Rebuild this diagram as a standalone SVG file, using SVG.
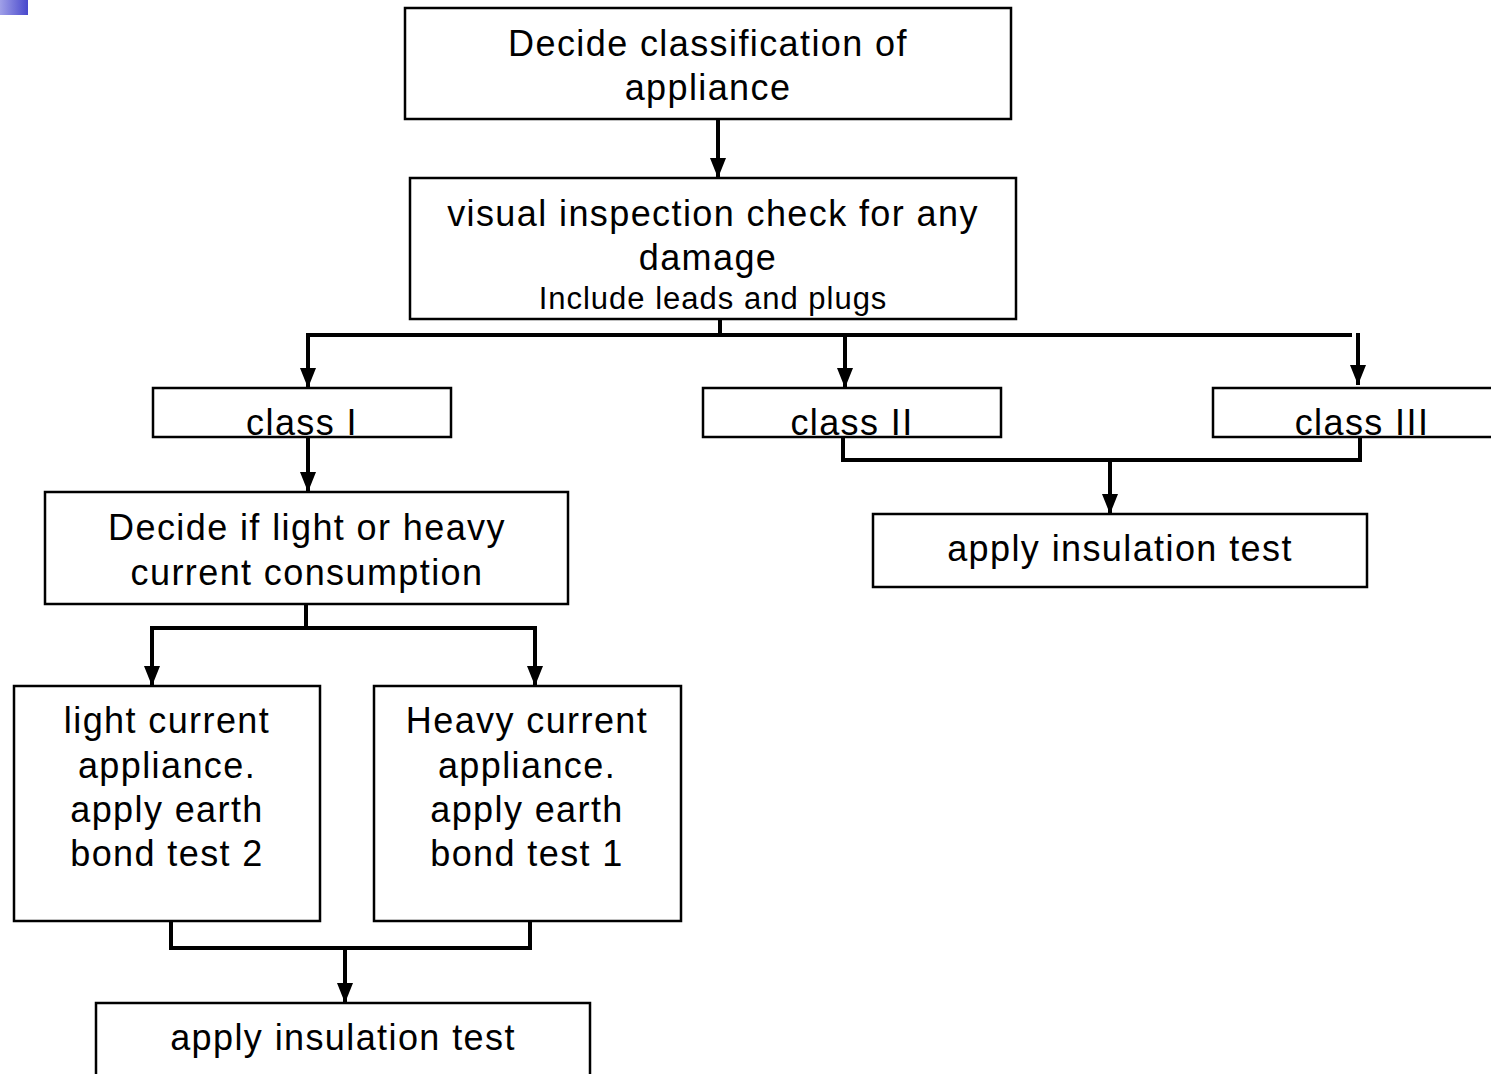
<svg xmlns="http://www.w3.org/2000/svg" width="1491" height="1074" viewBox="0 0 1491 1074">
<style>
.box{fill:#fff;stroke:#000;stroke-width:2.5}
.t{font-family:"Liberation Sans",Arial,sans-serif;font-size:36px;letter-spacing:1.4px;fill:#000;text-anchor:middle}
.s{font-size:31px;letter-spacing:1px}
.c{fill:none;stroke:#000;stroke-width:4}
</style>
<defs>
<linearGradient id="g" x1="0" y1="0" x2="1" y2="0">
<stop offset="0" stop-color="#a0a0e8"/>
<stop offset="1" stop-color="#4848cc"/>
</linearGradient>
<marker id="a" markerUnits="userSpaceOnUse" markerWidth="20" markerHeight="18" refX="20" refY="9" orient="auto" viewBox="0 0 20 18">
<path d="M0,1 L20,9 L0,17 Z" fill="#000"/>
</marker>
</defs>
<rect x="0" y="0" width="28" height="15" fill="url(#g)"/>
<g id="connectors">
<path class="c" d="M718,119 V178" marker-end="url(#a)"/>
<path class="c" d="M720,319 V335"/>
<path class="c" d="M306,335 H1352"/>
<path class="c" d="M308,335 V388" marker-end="url(#a)"/>
<path class="c" d="M845,335 V388" marker-end="url(#a)"/>
<path class="c" d="M1358,333 V385" marker-end="url(#a)"/>
<path class="c" d="M308,437 V492" marker-end="url(#a)"/>
<path class="c" d="M843,437 V460 H1362 M1360,437 V460"/>
<path class="c" d="M1110,460 V514" marker-end="url(#a)"/>
<path class="c" d="M306,604 V628"/>
<path class="c" d="M150,628 H537"/>
<path class="c" d="M152,628 V686" marker-end="url(#a)"/>
<path class="c" d="M535,628 V686" marker-end="url(#a)"/>
<path class="c" d="M171,921 V948 H532 M530,921 V948"/>
<path class="c" d="M345,948 V1003" marker-end="url(#a)"/>
</g>
<g id="n1"><rect class="box" x="405" y="8" width="606" height="111"/>
<text class="t" x="708" y="56">Decide classification of</text><text class="t" x="708" y="100">appliance</text></g>
<g id="n2"><rect class="box" x="410" y="178" width="606" height="141"/>
<text class="t" x="713" y="226">visual inspection check for any</text><text class="t" x="708" y="270">damage</text><text class="t s" x="713" y="309">Include leads and plugs</text></g>
<g id="n3"><rect class="box" x="153" y="388" width="298" height="49"/>
<text class="t" x="302" y="435">class I</text></g>
<g id="n4"><rect class="box" x="703" y="388" width="298" height="49"/>
<text class="t" x="852" y="435">class II</text></g>
<g id="n5"><rect class="box" x="1213" y="388" width="290" height="49"/>
<text class="t" x="1362" y="435">class III</text></g>
<g id="n6"><rect class="box" x="45" y="492" width="523" height="112"/>
<text class="t" x="307" y="540">Decide if light or heavy</text><text class="t" x="307" y="585">current consumption</text></g>
<g id="n7"><rect class="box" x="873" y="514" width="494" height="73"/>
<text class="t" x="1120" y="561">apply insulation test</text></g>
<g id="n8"><rect class="box" x="14" y="686" width="306" height="235"/>
<text class="t" x="167" y="733">light current</text><text class="t" x="167" y="778">appliance.</text><text class="t" x="167" y="822">apply earth</text><text class="t" x="167" y="866">bond test 2</text></g>
<g id="n9"><rect class="box" x="374" y="686" width="307" height="235"/>
<text class="t" x="527" y="733">Heavy current</text><text class="t" x="527" y="778">appliance.</text><text class="t" x="527" y="822">apply earth</text><text class="t" x="527" y="866">bond test 1</text></g>
<g id="n10"><rect class="box" x="96" y="1003" width="494" height="90"/>
<text class="t" x="343" y="1050">apply insulation test</text></g>
</svg>
